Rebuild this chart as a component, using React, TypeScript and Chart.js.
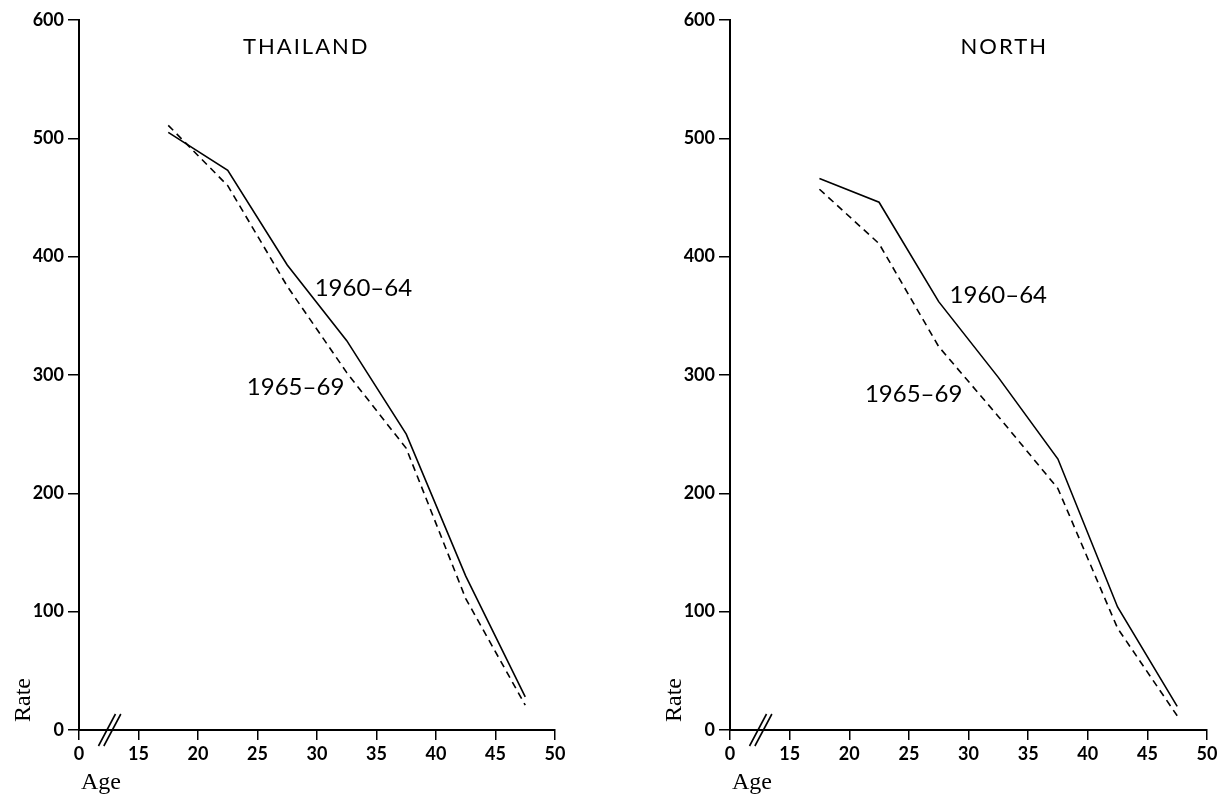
import React, { useEffect, useRef } from "react";
import { Chart, registerables } from "chart.js";

Chart.register(...registerables);

// ---- Data ----
const AGES = [17.5, 22.5, 27.5, 32.5, 37.5, 42.5, 47.5];
const THAI_1960_64 = [505, 473, 393, 329, 250, 130, 28];
const THAI_1965_69 = [511, 460, 375, 302, 238, 111, 21];
const NORTH_1960_64 = [466, 446, 362, 298, 229, 104, 20];
const NORTH_1965_69 = [457, 411, 324, 265, 204, 86, 12];

// x axis is broken: the position of "10" carries the label "0"
const X_TICK_VALUES = [10, 15, 20, 25, 30, 35, 40, 45, 50];
const X_TICK_LABELS = ["0", "15", "20", "25", "30", "35", "40", "45", "50"];
const Y_TICK_VALUES = [0, 100, 200, 300, 400, 500, 600];

const SERIES_NAMES = ["1960\u201364", "1965\u201369"];

type Panel = {
  title: string;
  solid: number[];
  dashed: number[];
  titlePos: [number, number];
  labelPos: [number, number][];
  yWidth: number;
  padRight: number;
};

const PANELS: Panel[] = [
  {
    title: "THAILAND",
    solid: THAI_1960_64,
    dashed: THAI_1965_69,
    titlePos: [29.1, 577],
    labelPos: [
      [33.9, 373],
      [28.2, 290],
    ],
    yWidth: 79,
    padRight: 57,
  },
  {
    title: "NORTH",
    solid: NORTH_1960_64,
    dashed: NORTH_1965_69,
    titlePos: [33.0, 577],
    labelPos: [
      [32.5, 367],
      [25.4, 284],
    ],
    yWidth: 118,
    padRight: 17,
  },
];

const TICK_FONT = { family: "Lato", size: 18, weight: "bold" };

function makeConfig(p: Panel): any {
  const annotate = {
    id: "annotate",
    afterDatasetsDraw(chart: any) {
      const ctx = chart.ctx as CanvasRenderingContext2D;
      const xs = chart.scales.x;
      const ys = chart.scales.y;
      ctx.save();
      ctx.fillStyle = "#000";
      ctx.textBaseline = "middle";
      ctx.textAlign = "center";
      // title
      ctx.font = "22px Lato";
      (ctx as any).letterSpacing = "2px";
      ctx.fillText(p.title, xs.getPixelForValue(p.titlePos[0]), ys.getPixelForValue(p.titlePos[1]));
      (ctx as any).letterSpacing = "0px";
      // series labels
      ctx.font = "24px Lato";
      SERIES_NAMES.forEach((name, i) => {
        const [a, r] = p.labelPos[i];
        ctx.fillText(name, xs.getPixelForValue(a), ys.getPixelForValue(r));
      });
      // axis names
      ctx.font = "24px 'Liberation Serif'";
      const ax = xs.left;
      const y0 = ys.getPixelForValue(0);
      ctx.save();
      ctx.translate(ax - 55, y0 - 30);
      ctx.rotate(-Math.PI / 2);
      ctx.fillText("Rate", 0, 0);
      ctx.restore();
      ctx.textAlign = "left";
      ctx.fillText("Age", ax + 2, y0 + 53);
      // axis break marks
      ctx.strokeStyle = "#000";
      ctx.lineWidth = 1.6;
      [12.35, 12.8].forEach((v) => {
        const cx = xs.getPixelForValue(v);
        ctx.beginPath();
        ctx.moveTo(cx - 8.5, y0 + 16);
        ctx.lineTo(cx + 8.5, y0 - 16);
        ctx.stroke();
      });
      ctx.restore();
    },
  };

  return {
    type: "line",
    data: {
      datasets: [
        {
          label: SERIES_NAMES[0],
          data: AGES.map((a, i) => ({ x: a, y: p.solid[i] })),
          borderColor: "#000",
          borderWidth: 1.6,
          pointRadius: 0,
          tension: 0,
          fill: false,
        },
        {
          label: SERIES_NAMES[1],
          data: AGES.map((a, i) => ({ x: a, y: p.dashed[i] })),
          borderColor: "#000",
          borderWidth: 1.6,
          borderDash: [7, 5],
          pointRadius: 0,
          tension: 0,
          fill: false,
        },
      ],
    },
    options: {
      animation: false,
      responsive: false,
      maintainAspectRatio: false,
      layout: { padding: { top: 20, right: p.padRight, left: 0, bottom: 0 } },
      plugins: {
        legend: { display: false },
        tooltip: { enabled: false },
        title: { display: false },
      },
      scales: {
        x: {
          type: "linear",
          min: 10,
          max: 50,
          afterBuildTicks(scale: any) {
            scale.ticks = X_TICK_VALUES.map((v) => ({ value: v }));
          },
          afterFit(scale: any) {
            scale.height = 70;
          },
          ticks: {
            color: "#000",
            font: TICK_FONT,
            padding: 3,
            maxRotation: 0,
            autoSkip: false,
            callback: (v: number) => X_TICK_LABELS[X_TICK_VALUES.indexOf(v)] ?? "",
          },
          grid: {
            display: true,
            drawOnChartArea: false,
            drawTicks: true,
            tickLength: 10,
            color: "#000",
            lineWidth: 1.5,
          },
          border: { display: true, color: "#000", width: 2 },
        },
        y: {
          type: "linear",
          min: 0,
          max: 600,
          afterBuildTicks(scale: any) {
            scale.ticks = Y_TICK_VALUES.map((v) => ({ value: v }));
          },
          afterFit(scale: any) {
            scale.width = p.yWidth;
          },
          ticks: {
            color: "#000",
            font: TICK_FONT,
            padding: 4,
            autoSkip: false,
          },
          grid: {
            display: true,
            drawOnChartArea: false,
            drawTicks: true,
            tickLength: 11,
            color: "#000",
            lineWidth: 1.5,
          },
          border: { display: true, color: "#000", width: 2 },
        },
      },
    },
    plugins: [annotate],
  };
}

function PanelChart({ panel }: { panel: Panel }) {
  const ref = useRef<HTMLCanvasElement | null>(null);
  useEffect(() => {
    if (!ref.current) return;
    const chart = new Chart(ref.current, makeConfig(panel));
    return () => chart.destroy();
  }, [panel]);
  return (
    <canvas
      ref={ref}
      width={612}
      height={800}
      style={{ width: 612, height: 800, display: "block" }}
    />
  );
}

export default function App() {
  return (
    <div
      style={{
        position: "absolute",
        left: 0,
        top: 0,
        width: 1224,
        height: 800,
        display: "flex",
        background: "#fff",
      }}
    >
      {PANELS.map((p) => (
        <PanelChart key={p.title} panel={p} />
      ))}
    </div>
  );
}
